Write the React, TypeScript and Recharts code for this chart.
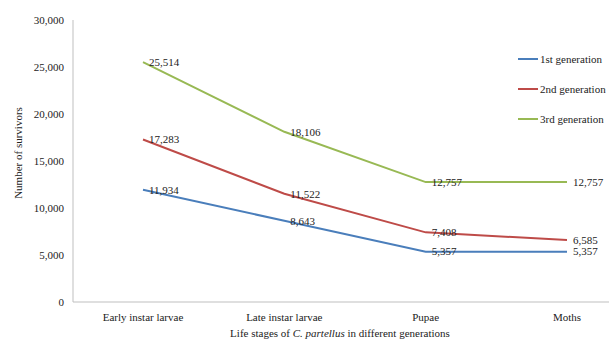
import React from "react";
import { LineChart, Line, XAxis, YAxis, Label, LabelList } from "recharts";

const stages = ["Early instar larvae", "Late instar larvae", "Pupae", "Moths"];
const gen1 = [11934, 8643, 5357, 5357];
const gen2 = [17283, 11522, 7408, 6585];
const gen3 = [25514, 18106, 12757, 12757];
const yTicks = [0, 5000, 10000, 15000, 20000, 25000, 30000];

const SERIES = [
  { key: "gen1", name: "1st generation", color: "#4a7ebb" },
  { key: "gen2", name: "2nd generation", color: "#be4b48" },
  { key: "gen3", name: "3rd generation", color: "#98b954" },
];

const FONT = '"Liberation Serif", "Times New Roman", serif';
const fmt = (v: number) => v.toLocaleString("en-US");

const data = stages.map((stage, i) => ({
  stage,
  gen1: gen1[i],
  gen2: gen2[i],
  gen3: gen3[i],
}));

// value label sits just right of the point, vertically centred on it
const PointLabel = (props: any) => {
  const { x, y, value } = props;
  return (
    <text x={x + 6} y={y} dy="0.35em" fontSize={11} fontFamily={FONT} fill="#222">
      {fmt(value)}
    </text>
  );
};

export default function App() {
  return (
    <div style={{ position: "absolute", left: 0, top: 0, width: 609, height: 348, overflow: "hidden", background: "#fff" }}>
      <LineChart width={640} height={348} data={data} margin={{ top: 20, right: 3, bottom: 0, left: 0 }}>
        <XAxis
          dataKey="stage"
          height={46}
          padding={{ left: 70, right: 70 }}
          stroke="#bfbfbf"
          tickLine={false}
          tickSize={0}
          tickMargin={11}
          tick={{ fontSize: 11, fontFamily: FONT, fill: "#222" }}
        >
          <Label
            content={(p: any) => {
              const vb = p.viewBox;
              return (
                <text x={vb.x + vb.width / 2 - 15} y={vb.y + 35} textAnchor="middle" fontSize={11} fontFamily={FONT} fill="#222">
                  Life stages of <tspan fontStyle="italic">C. partellus</tspan> in different generations
                </text>
              );
            }}
          />
        </XAxis>
        <YAxis
          width={73}
          domain={[0, 30000]}
          ticks={yTicks}
          tickFormatter={fmt}
          stroke="#bfbfbf"
          tickLine={false}
          tickSize={0}
          tickMargin={9}
          tick={{ fontSize: 11, fontFamily: FONT, fill: "#222" }}
        >
          <Label
            content={(p: any) => {
              const vb = p.viewBox;
              const cx = 18;
              const cy = vb.y + vb.height / 2 - 8;
              return (
                <text x={cx} y={cy} transform={`rotate(-90 ${cx} ${cy})`} textAnchor="middle" dy="0.35em" fontSize={11} fontFamily={FONT} fill="#222">
                  Number of survivors
                </text>
              );
            }}
          />
        </YAxis>
        {SERIES.map((s) => (
          <Line
            key={s.key}
            dataKey={s.key}
            name={s.name}
            stroke={s.color}
            strokeWidth={2}
            dot={false}
            activeDot={false}
            isAnimationActive={false}
          >
            <LabelList dataKey={s.key} content={<PointLabel />} />
          </Line>
        ))}
      </LineChart>
      <div style={{ position: "absolute", left: 518, top: 44, fontFamily: FONT, fontSize: 11, color: "#222" }}>
        {SERIES.map((s) => (
          <div key={s.key} style={{ display: "flex", alignItems: "center", height: 30 }}>
            <span style={{ display: "inline-block", width: 20, height: 2, background: s.color, marginRight: 2 }} />
            <span>{s.name}</span>
          </div>
        ))}
      </div>
    </div>
  );
}
